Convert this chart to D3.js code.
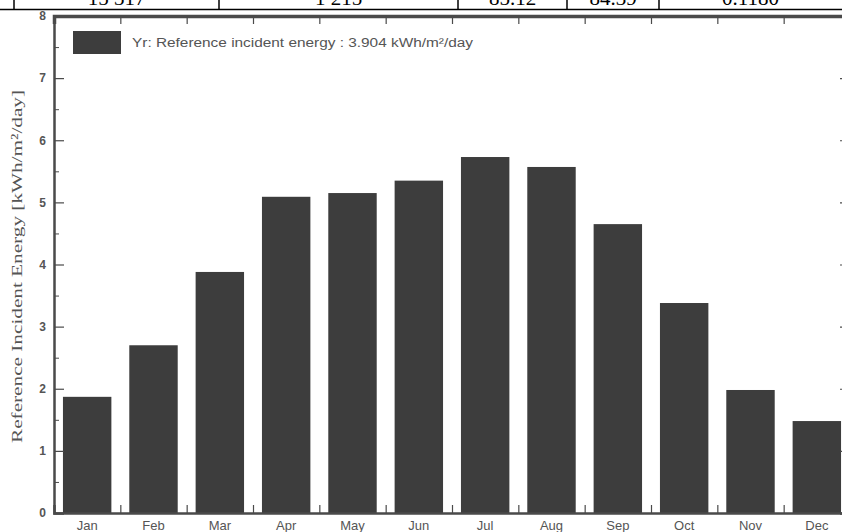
<!DOCTYPE html>
<html>
<head>
<meta charset="utf-8">
<script src="https://cdn.jsdelivr.net/npm/d3@7"></script>
<style>
  body { margin: 0; background: #fff; }
  #root { width: 842px; height: 532px; overflow: hidden; }
</style>
</head>
<body>
<div id="root"></div>
<script>
// data
const months = ['Jan', 'Feb', 'Mar', 'Apr', 'May', 'Jun', 'Jul', 'Aug', 'Sep', 'Oct', 'Nov', 'Dec'];
const energy = [1.87, 2.70, 3.88, 5.09, 5.15, 5.35, 5.73, 5.57, 4.65, 3.38, 1.98, 1.48];
const yTicks = [0, 1, 2, 3, 4, 5, 6, 7, 8];
const yMinorTicks = [0.5, 1.5, 2.5, 3.5, 4.5, 5.5, 6.5, 7.5];
const tableRow = ['15 317', '1 215', '85.12', '84.39', '0.1180'];
const legendLabel = 'Yr: Reference incident energy :  3.904 kWh/m²/day';
const yTitle = 'Reference Incident Energy [kWh/m²/day]';

const root = document.getElementById('root');
const svg = d3.select(root)
    .append('svg')
    .attr('width', 842)
    .attr('height', 532);

// table fragment at top (cut off by the page edge, as in the source)
const colEdges = [14, 219, 458, 567, 659, 842];
svg.append('line')
    .attr('x1', 0).attr('x2', 842)
    .attr('y1', 9.5).attr('y2', 9.5)
    .attr('stroke', '#000').attr('stroke-width', 1.5);
colEdges.slice(0, 5).forEach(x => {
    svg.append('line')
        .attr('x1', x).attr('x2', x)
        .attr('y1', 0).attr('y2', 9.5)
        .attr('stroke', '#000').attr('stroke-width', 1.5);
});
svg.selectAll('.cell')
    .data(tableRow)
    .enter()
    .append('text')
    .attr('class', 'cell')
    .attr('x', (d, i) => (colEdges[i] + colEdges[i + 1]) / 2)
    .attr('y', 5)
    .attr('text-anchor', 'middle')
    .attr('font-family', 'Liberation Serif, serif')
    .attr('font-size', 21)
    .attr('fill', '#000')
    .text(d => d);

// Dimensions
const plot = { left: 54, right: 850, top: 16, bottom: 513 };

const x = d3.scaleBand()
    .domain(months)
    .range([plot.left, plot.right])
    .paddingInner(0.27)
    .paddingOuter(0.135);
const xEdge = d3.scaleLinear().domain([0, 12]).range([plot.left, plot.right]);
const y = d3.scaleLinear().domain([0, 8]).range([plot.bottom, plot.top]);

const frame = '#4a4a4a';
const labelColor = '#555';

// bars
svg.selectAll('.bar')
    .data(energy)
    .enter()
    .append('rect')
    .attr('class', 'bar')
    .attr('x', (d, i) => x(months[i]))
    .attr('y', d => y(d))
    .attr('width', x.bandwidth())
    .attr('height', d => y(0) - y(d))
    .attr('fill', '#3d3d3d');

// y axis left
const yAxis = d3.axisLeft(y)
    .tickValues(yTicks)
    .tickSize(-10)
    .tickPadding(8)
    .tickFormat(d3.format('d'));
const gy = svg.append('g')
    .attr('transform', `translate(${plot.left},0)`)
    .call(yAxis);
gy.select('.domain').attr('stroke', frame).attr('stroke-width', 2.5);
gy.selectAll('.tick line').attr('stroke', frame).attr('stroke-width', 1.2);
gy.selectAll('.tick text')
    .attr('fill', labelColor)
    .attr('font-family', 'Liberation Sans, Arial, sans-serif')
    .attr('font-weight', 'bold')
    .attr('font-size', 12);

const gyMinor = svg.append('g')
    .attr('transform', `translate(${plot.left},0)`)
    .call(d3.axisLeft(y).tickValues(yMinorTicks).tickSize(-5).tickFormat(''));
gyMinor.select('.domain').remove();
gyMinor.selectAll('.tick line').attr('stroke', frame).attr('stroke-width', 1);

// y axis right
const gr = svg.append('g')
    .attr('transform', `translate(${plot.right},0)`)
    .call(d3.axisRight(y).tickValues(yTicks).tickSize(-10).tickFormat(''));
gr.select('.domain').attr('stroke', frame).attr('stroke-width', 2.5);
gr.selectAll('.tick line').attr('stroke', frame).attr('stroke-width', 1.2);
const grMinor = svg.append('g')
    .attr('transform', `translate(${plot.right},0)`)
    .call(d3.axisRight(y).tickValues(yMinorTicks).tickSize(-5).tickFormat(''));
grMinor.select('.domain').remove();
grMinor.selectAll('.tick line').attr('stroke', frame).attr('stroke-width', 1);

// x axis bottom: labels
const gx = svg.append('g')
    .attr('transform', `translate(0,${plot.bottom})`)
    .call(d3.axisBottom(x).tickSize(0).tickPadding(8));
gx.select('.domain').remove();
gx.selectAll('.tick text')
    .attr('fill', labelColor)
    .attr('font-family', 'Liberation Sans, Arial, sans-serif')
    .attr('font-size', 13);

// bottom and top boundary ticks
const edgeTicks = d3.range(1, 12);
const gxb = svg.append('g')
    .attr('transform', `translate(0,${plot.bottom})`)
    .call(d3.axisBottom(xEdge).tickValues(edgeTicks).tickSize(-8).tickFormat(''));
gxb.select('.domain').attr('stroke', frame).attr('stroke-width', 2.5);
gxb.selectAll('.tick line').attr('stroke', frame).attr('stroke-width', 1.2);

const gxt = svg.append('g')
    .attr('transform', `translate(0,${plot.top})`)
    .call(d3.axisTop(xEdge).tickValues(edgeTicks).tickSize(-8).tickFormat(''));
gxt.select('.domain').attr('stroke', frame).attr('stroke-width', 3.5);
gxt.selectAll('.tick line').attr('stroke', frame).attr('stroke-width', 1.2);

// y title
svg.append('text')
    .attr('transform', `translate(22,${(90 + 443) / 2}) rotate(-90)`)
    .attr('text-anchor', 'middle')
    .attr('font-family', 'Liberation Serif, serif')
    .attr('font-size', 15.5)
    .attr('fill', labelColor)
    .attr('textLength', 353)
    .attr('lengthAdjust', 'spacingAndGlyphs')
    .text(yTitle);

// legend
svg.append('rect')
    .attr('x', 73).attr('y', 31)
    .attr('width', 48).attr('height', 23)
    .attr('fill', '#3d3d3d');
svg.append('text')
    .attr('x', 132).attr('y', 47)
    .attr('font-family', 'Liberation Sans, Arial, sans-serif')
    .attr('font-size', 12.5)
    .attr('fill', labelColor)
    .attr('textLength', 341)
    .attr('lengthAdjust', 'spacingAndGlyphs')
    .text(legendLabel);
</script>
</body>
</html>
